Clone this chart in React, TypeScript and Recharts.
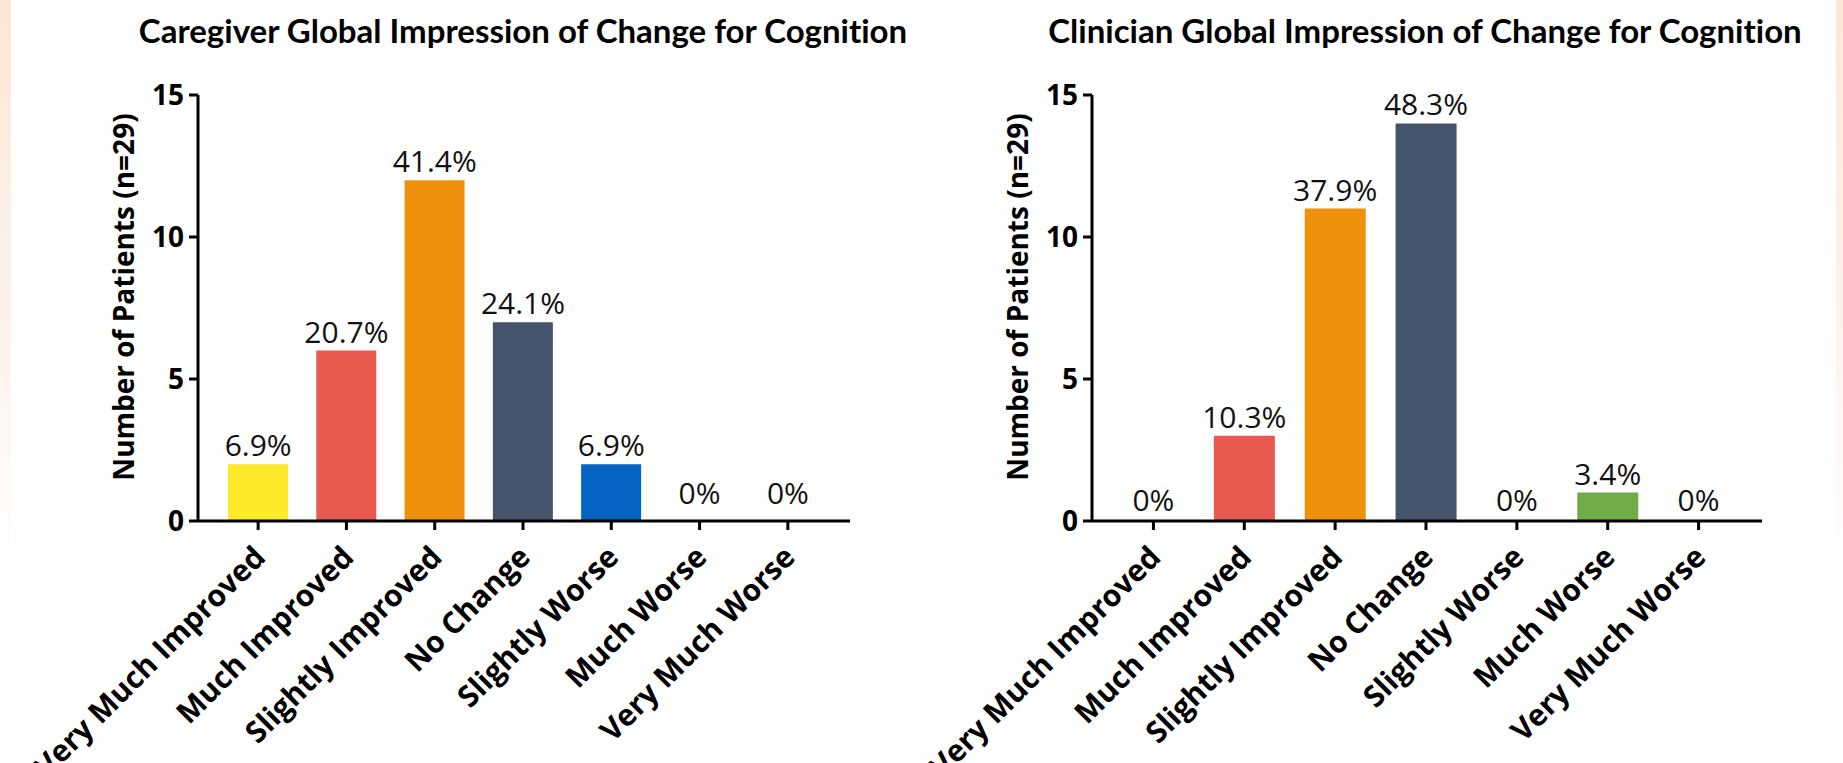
import React from "react";
import { Bar, Cell, ComposedChart, LabelList, Line, XAxis, YAxis } from "recharts";

const categories = [
  "Very Much Improved",
  "Much Improved",
  "Slightly Improved",
  "No Change",
  "Slightly Worse",
  "Much Worse",
  "Very Much Worse",
];

// patient counts per response category (n = 29)
const caregiverCounts = [2, 6, 12, 7, 2, 0, 0];
const clinicianCounts = [0, 3, 11, 14, 0, 1, 0];

const yTicks = [0, 5, 10, 15];
const N_PATIENTS = 29;

const barColors = ["#FCE92A", "#E85A50", "#F0910D", "#44546A", "#0563C1", "#70AD47", "#A5A5A5"];

const AXIS = "#000";
const SANS = "'Open Sans', sans-serif";

const pct = (v: number) => (v === 0 ? "0%" : `${((v / N_PATIENTS) * 100).toFixed(1)}%`);

function CategoryTick(props: any) {
  const { x, y, payload } = props;
  const ax = 9;
  const ay = 29;
  return (
    <g transform={`translate(${x},${y})`}>
      <text
        x={ax}
        y={ay}
        transform={`rotate(-45, ${ax}, ${ay})`}
        textAnchor="end"
        fontFamily={SANS}
        fontWeight={700}
        fontSize={30}
        fill="#000"
      >
        {payload.value}
      </text>
    </g>
  );
}

type PanelProps = {
  title: string;
  counts: number[];
  left: number;
  width: number;
  axisX: number; // y-axis position inside the panel
  plotRight: number;
  barSize: number;
  zeroGap: number;
  titleX: number;
  yLabelX: number;
};

function Panel({ title, counts, left, width, axisX, plotRight, barSize, zeroGap, titleX, yLabelX }: PanelProps) {
  const data = categories.map((name, i) => ({ name, count: counts[i] }));
  const yAxisWidth = 60;

  // percentage labels sit on an invisible line so empty categories get one too
  const renderPct = (p: any) => {
    const { x, y, value } = p;
    const gap = value === 0 ? zeroGap : 8;
    return (
      <text x={x} y={y - gap} textAnchor="middle" fontFamily={SANS} fontSize={30} fill="#111">
        {pct(value)}
      </text>
    );
  };

  return (
    <div style={{ position: "absolute", left, top: 0, width, height: 763 }}>
      <ComposedChart
        width={width}
        height={763}
        data={data}
        margin={{ top: 95, right: width - plotRight, bottom: 42, left: axisX - yAxisWidth }}
      >
        <XAxis
          dataKey="name"
          interval={0}
          height={200}
          padding={{ left: 16, right: 18 }}
          axisLine={{ stroke: AXIS, strokeWidth: 3 }}
          tickLine={{ stroke: AXIS, strokeWidth: 3 }}
          tickSize={9}
          tickMargin={0}
          tick={<CategoryTick />}
        />
        <YAxis
          width={yAxisWidth}
          domain={[0, 15]}
          ticks={yTicks}
          interval={0}
          axisLine={{ stroke: AXIS, strokeWidth: 3 }}
          tickLine={{ stroke: AXIS, strokeWidth: 3 }}
          tickSize={9}
          tickMargin={5}
          tick={{ fill: "#000", fontFamily: SANS, fontWeight: 700, fontSize: 28 }}
        />
        <Bar dataKey="count" barSize={barSize} isAnimationActive={false}>
          {data.map((d, i) => (
            <Cell key={d.name} fill={barColors[i]} />
          ))}
        </Bar>
        <Line
          dataKey="count"
          stroke="none"
          dot={false}
          activeDot={false}
          isAnimationActive={false}
        >
          <LabelList dataKey="count" content={renderPct} />
        </Line>
      </ComposedChart>
      <svg
        width={width}
        height={763}
        style={{ position: "absolute", left: 0, top: 0, pointerEvents: "none" }}
      >
        <text
          x={titleX}
          y={43}
          textAnchor="middle"
          fontFamily="Lato, sans-serif"
          fontWeight={700}
          fontSize={33}
          fill="#000"
          style={{ fontVariantLigatures: "none" }}
        >
          {title}
        </text>
        <text
          x={yLabelX}
          y={297}
          transform={`rotate(-90, ${yLabelX}, 297)`}
          textAnchor="middle"
          fontFamily={SANS}
          fontWeight={700}
          fontSize={28}
          fill="#000"
        >
          Number of Patients (n=29)
        </text>
      </svg>
    </div>
  );
}

export default function App() {
  return (
    <div
      style={{
        position: "absolute",
        left: 0,
        top: 0,
        width: 1843,
        height: 763,
        overflow: "hidden",
        background: "#fff",
      }}
    >
      <div
        style={{
          position: "absolute",
          left: 0,
          top: 0,
          width: 11,
          height: 763,
          background: "linear-gradient(to bottom, #FDE7D6 0%, #FEF3EC 45%, #FFFFFF 75%)",
        }}
      />
      <div
        style={{
          position: "absolute",
          left: 1836,
          top: 0,
          width: 7,
          height: 763,
          background: "linear-gradient(to bottom, #FDE7D6 0%, #FEF3EC 45%, #FFFFFF 75%)",
        }}
      />
      <Panel
        title="Caregiver Global Impression of Change for Cognition"
        counts={caregiverCounts}
        left={0}
        width={920}
        axisX={198}
        plotRight={850}
        barSize={60}
        zeroGap={17}
        titleX={523}
        yLabelX={134}
      />
      <Panel
        title="Clinician Global Impression of Change for Cognition"
        counts={clinicianCounts}
        left={920}
        width={923}
        axisX={172}
        plotRight={842}
        barSize={61}
        zeroGap={10}
        titleX={505}
        yLabelX={108}
      />
    </div>
  );
}
